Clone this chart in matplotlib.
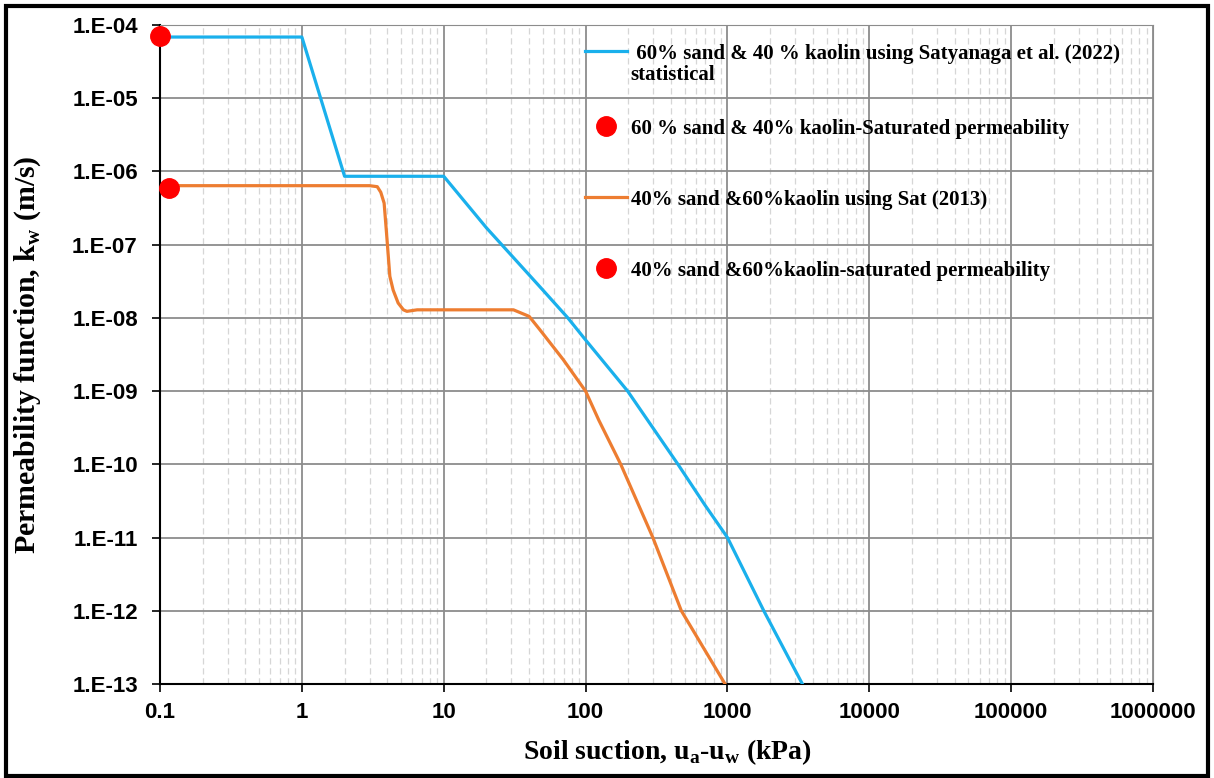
import numpy as np
import matplotlib
matplotlib.use("Agg")
import matplotlib.pyplot as plt
from matplotlib.ticker import FixedLocator, FuncFormatter, NullFormatter, LogLocator
from matplotlib.patches import Rectangle
from matplotlib.lines import Line2D

# (suction in kPa, permeability in m/s)
suction_6040 = [0.1, 1, 2, 10, 20, 50, 75, 100, 198, 274, 448, 692, 1000, 1803, 3375]
kw_6040 = [6.86e-5, 6.86e-5, 8.6e-7, 8.6e-7, 1.7e-7, 2.4e-8, 1.0e-8, 5.0e-9,
           1.0e-9, 4.0e-10, 1.0e-10, 2.8e-11, 1.0e-11, 1.0e-12, 1.0e-13]

suction_4060 = [0.1, 3.0, 3.4, 3.6, 3.8, 3.95, 4.17, 4.4, 4.77, 5.2, 5.5, 6.5, 31,
                40, 47.6, 69.5, 100, 124, 177, 298, 473, 962]
kw_4060 = [6.4e-7, 6.4e-7, 6.2e-7, 5.2e-7, 3.7e-7, 1.45e-7, 3.7e-8, 2.4e-8, 1.6e-8,
           1.29e-8, 1.23e-8, 1.29e-8, 1.29e-8, 1.05e-8, 6.9e-9, 2.7e-9, 1.0e-9,
           4.0e-10, 1.0e-10, 1.0e-11, 1.0e-12, 1.0e-13]

sat_x = [0.1, 0.116]
sat_k = [7.0e-5, 5.9e-7]

labels = [" 60% sand & 40 % kaolin using Satyanaga et al. (2022)",
          "60 % sand & 40% kaolin-Saturated permeability",
          "40% sand &60%kaolin using Sat (2013)",
          "40% sand &60%kaolin-saturated permeability"]
label_cont = "statistical"

xticks = [0.1, 1, 10, 100, 1000, 10000, 100000, 1000000]
xticklabels = ["0.1", "1", "10", "100", "1000", "10000", "100000", "1000000"]
yticks = [10.0 ** e for e in range(-13, -3)]

serif = "Liberation Serif"
sans = "Liberation Sans"

fig = plt.figure(figsize=(12.14, 7.78), dpi=100)
ax = fig.add_axes([0.1318, 0.1208, 0.8180, 0.8470])

blue = "#1AB0EC"
orange = "#ED7D31"

l1, = ax.plot(suction_6040, kw_6040, color=blue, lw=2.3, zorder=3)
p1, = ax.plot(sat_x[0], sat_k[0], "o", color="red", ms=14, zorder=4, clip_on=False)
l2, = ax.plot(suction_4060, kw_4060, color=orange, lw=2.3, zorder=3)
p2, = ax.plot(sat_x[1], sat_k[1], "o", color="red", ms=14, zorder=4, clip_on=False)

ax.set_xscale("log")
ax.set_yscale("log")
ax.set_xlim(0.1, 1e6)
ax.set_ylim(1e-13, 1e-4)

ax.xaxis.set_major_locator(FixedLocator(xticks))
ax.set_xticklabels(xticklabels)
ax.xaxis.set_minor_locator(LogLocator(base=10, subs=np.arange(2, 10), numticks=50))
ax.xaxis.set_minor_formatter(NullFormatter())
ax.yaxis.set_major_locator(FixedLocator(yticks))
ax.yaxis.set_minor_locator(FixedLocator([]))
ax.yaxis.set_major_formatter(FuncFormatter(lambda v, p: "1.E-%02d" % round(-np.log10(v))))

ax.tick_params(axis="both", which="major", direction="out", length=6, width=1.2,
               labelsize=16)
ax.tick_params(axis="y", which="major", pad=10)
ax.tick_params(axis="x", which="major", pad=7)
ax.tick_params(axis="x", which="minor", length=0)
for t in ax.get_xticklabels() + ax.get_yticklabels():
    t.set_fontfamily(sans)
    t.set_fontweight("bold")

ax.grid(True, which="major", color="#8c8c8c", lw=1.3, ls="-", zorder=1)
ax.grid(True, which="minor", axis="x", color="#d6d6d6", lw=0.9, ls=(0, (5, 3)), zorder=1)

ax.spines["left"].set_color("black")
ax.spines["bottom"].set_color("black")
ax.spines["left"].set_linewidth(1.5)
ax.spines["bottom"].set_linewidth(1.5)
ax.spines["top"].set_color("#8c8c8c")
ax.spines["right"].set_color("#8c8c8c")

ax.set_xlabel("Soil suction, u$_\\mathregular{a}$-u$_\\mathregular{w}$ (kPa)",
              fontfamily=serif, fontweight="bold", fontsize=20)
ax.set_ylabel("Permeability function, k$_\\mathregular{w}$ (m/s)",
              fontfamily=serif, fontweight="bold", fontsize=21.5)
ax.xaxis.set_label_coords(0.5106, -0.104)
ax.xaxis.label.set_va("center")
ax.yaxis.set_label_coords(-0.133, 0.5)
ax.yaxis.label.set_va("center")

legprops = {"family": serif, "weight": "bold", "size": 15}
blank = Line2D([], [], lw=0)
leg1 = ax.legend([l1, blank], [labels[0], label_cont], loc="upper left",
                 bbox_to_anchor=(0.428, 0.972), frameon=False, prop=legprops,
                 handlelength=2.0, handletextpad=0.2, labelspacing=0.05,
                 borderpad=0, borderaxespad=0)
ax.add_artist(leg1)
ax.legend([p1, l2, p2], labels[1:], loc="upper left",
          bbox_to_anchor=(0.428, 0.858), frameon=False, prop=legprops,
          handlelength=2.0, handletextpad=0.2, labelspacing=2.45,
          borderpad=0, borderaxespad=0, numpoints=1)

# black frame around the whole picture
fig.patches.append(Rectangle((0.005, 0.003), 0.99, 0.989, transform=fig.transFigure,
                             fill=False, edgecolor="black", lw=3))

fig.savefig("out.png", dpi=100)
